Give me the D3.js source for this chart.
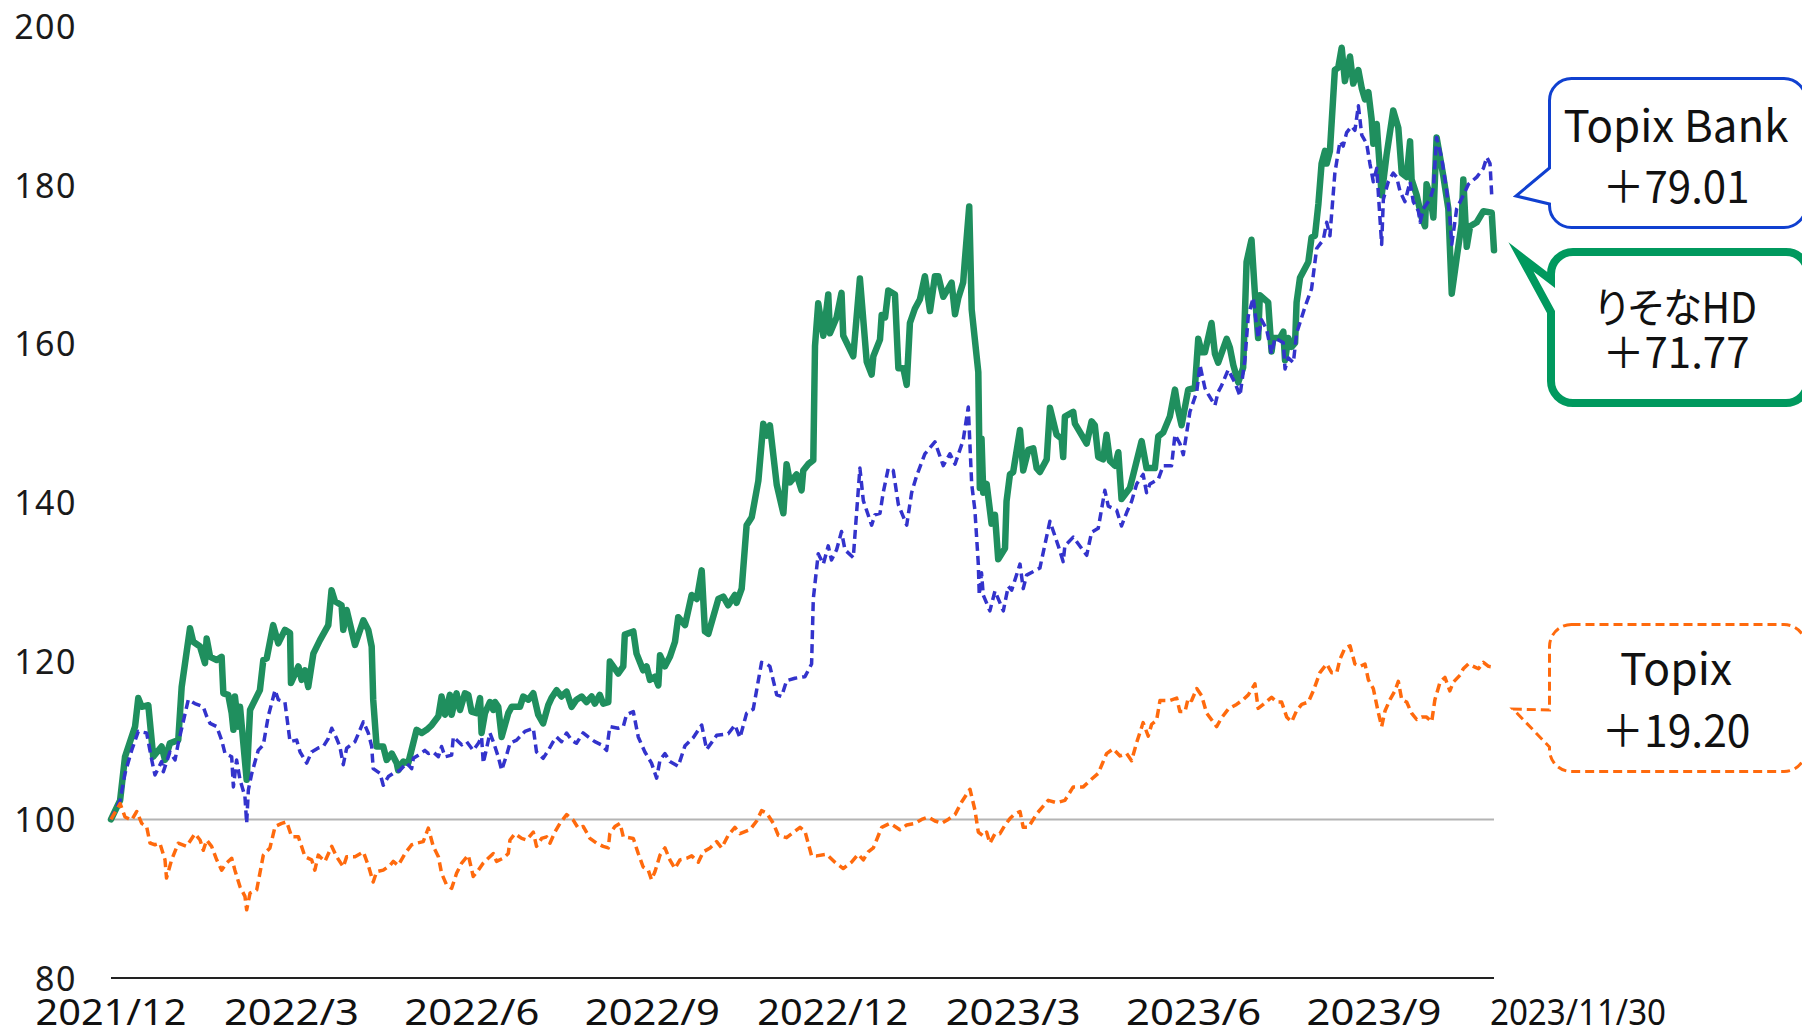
<!DOCTYPE html>
<html>
<head>
<meta charset="utf-8">
<script src="https://cdn.jsdelivr.net/npm/d3@7"></script>
<style>
  html, body { margin: 0; padding: 0; background: #fff; }
  svg { display: block; }
</style>
</head>
<body>
<div id="chart"></div>
<script>
// Index (2021/11/30 = 100). Each point: [days since 2021/11/30, value]
const startDate = new Date(2021, 10, 30);
const endDate = new Date(2023, 10, 30);

const resonaHD = [[0,100],[4.8,102.4],[7.4,107.9],[12.7,111.7],[14.4,115.3],[16.2,114.2],[19.7,114.4],[22.3,107.9],[26.7,109.2],[28.5,107.5],[31.1,109.6],[35.5,110.0],[37.3,116.7],[41.7,124.1],[43.4,122.4],[47.0,121.8],[49.6,119.7],[50.5,122.8],[52.3,120.5],[55.8,120.1],[58.4,120.5],[59.3,115.9],[61.9,115.7],[63.7,113.4],[64.6,111.3],[65.4,115.5],[67.2,111.7],[68.1,114.2],[71.6,105.0],[73.4,113.8],[78.6,116.3],[80.4,120.1],[82.2,120.3],[85.6,124.5],[88.3,122.2],[91.8,123.9],[94.5,123.5],[95.0,117.2],[98.9,119.3],[100.6,117.6],[102.4,118.8],[104.1,116.7],[106.8,120.9],[110.3,122.6],[114.7,124.5],[116.4,128.9],[118.2,127.5],[121.7,127.0],[122.6,123.9],[124.4,126.4],[128.8,122.0],[133.2,125.1],[135.8,123.9],[137.6,121.8],[138.4,115.1],[140.2,109.2],[143.7,109.2],[145.5,107.5],[148.2,108.3],[150.8,107.1],[151.6,106.2],[154.3,107.3],[156.9,107.1],[161.3,111.3],[164.0,110.9],[166.6,111.3],[169.3,111.9],[172.8,113.0],[174.5,115.5],[176.3,113.2],[178.9,115.7],[179.8,113.2],[182.4,115.9],[184.2,113.8],[186.8,115.9],[188.6,115.7],[190.3,113.6],[193.0,113.4],[194.8,115.3],[195.6,110.9],[197.4,113.4],[200.0,114.8],[201.8,113.8],[202.7,114.8],[204.4,114.2],[206.2,110.4],[209.7,113.4],[211.5,114.2],[215.9,114.2],[217.6,115.5],[220.3,115.1],[222.9,115.9],[225.5,113.2],[228.1,112.1],[230.8,114.4],[232.5,115.3],[235.2,116.3],[237.8,115.5],[240.5,116.1],[243.1,114.2],[245.7,115.1],[248.4,115.5],[251.0,114.8],[253.7,115.5],[255.4,114.6],[258.0,115.7],[259.8,114.6],[262.5,114.8],[263.3,119.9],[265.1,119.3],[267.7,118.4],[270.4,119.3],[271.2,123.3],[275.7,123.7],[277.4,120.9],[280.9,118.8],[282.7,119.3],[284.5,117.6],[287.1,118.0],[288.9,116.9],[289.8,120.7],[292.4,119.3],[295.0,120.5],[297.7,122.4],[299.4,125.5],[303.0,124.5],[306.5,128.3],[309.2,127.8],[311.8,131.4],[313.5,123.7],[315.3,123.4],[320.6,127.8],[323.2,128.1],[325.8,127.0],[329.3,128.3],[330.2,127.3],[332.9,129.1],[335.5,137.1],[338.2,138.1],[341.7,142.7],[344.3,149.9],[346.1,148.4],[347.8,149.7],[351.4,142.2],[354.9,138.6],[356.6,144.8],[358.4,142.5],[361.9,143.5],[364.5,141.5],[365.4,144.0],[368.0,144.8],[370.7,145.3],[371.6,159.7],[373.3,165.1],[376.0,161.0],[378.6,166.2],[379.5,161.3],[383.0,163.3],[385.6,166.4],[386.5,161.0],[391.8,158.4],[395.3,168.2],[398.9,157.7],[401.5,156.1],[402.4,158.4],[405.9,160.5],[406.8,163.6],[408.6,163.3],[410.3,166.7],[413.8,166.2],[415.6,156.9],[418.2,156.9],[420.0,154.8],[421.7,162.6],[424.3,164.4],[427.0,165.6],[429.6,168.5],[432.3,164.1],[434.9,168.5],[436.7,168.5],[439.3,165.9],[443.7,167.7],[445.5,163.7],[447.2,165.7],[449.8,167.7],[450.7,170.5],[453.0,177.3],[454.3,164.3],[457.8,156.4],[458.6,141.8],[459.5,148.0],[460.4,141.2],[462.2,142.3],[464.8,137.3],[466.6,138.4],[468.3,132.8],[471.9,134.2],[472.7,140.1],[474.5,143.5],[476.2,143.8],[479.8,149.1],[481.5,144.0],[484.2,146.6],[486.8,146.8],[488.6,144.3],[490.3,143.8],[493.9,145.4],[495.6,151.9],[499.1,148.5],[501.8,148.0],[502.6,145.7],[503.5,150.8],[507.9,151.4],[508.8,149.9],[515.0,147.4],[517.6,150.2],[519.3,149.7],[521.1,145.7],[523.7,145.4],[525.5,148.5],[527.3,145.2],[529.9,144.6],[531.7,146.3],[533.4,140.4],[537.8,141.8],[539.6,143.5],[544.0,147.7],[546.6,144.3],[551.0,144.3],[552.8,148.3],[555.4,148.8],[558.9,150.8],[561.6,154.2],[563.3,151.6],[565.1,149.7],[568.6,154.2],[572.1,154.4],[573.9,160.6],[575.7,158.9],[577.4,158.9],[580.9,162.6],[582.7,158.7],[584.4,157.6],[588.9,160.6],[590.6,159.5],[592.4,157.3],[595.0,155.1],[597.6,157.0],[599.4,170.3],[602.0,173.1],[603.8,166.3],[605.5,160.7],[606.4,166.1],[610.8,165.2],[612.6,159.0],[613.5,160.7],[617.0,160.7],[618.8,161.5],[619.7,157.9],[621.4,160.7],[623.2,159.6],[625.0,160.1],[625.8,165.2],[627.6,168.3],[632.0,170.3],[633.7,173.4],[635.5,173.6],[637.3,177.6],[639.0,182.7],[640.8,184.3],[641.7,182.7],[643.4,184.3],[646.0,194.5],[647.8,194.8],[649.6,197.3],[651.3,193.1],[654.0,196.2],[655.7,192.8],[658.4,194.5],[660.2,192.2],[661.9,190.8],[663.7,191.7],[665.4,188.3],[666.3,185.2],[668.1,187.7],[670.7,178.7],[673.3,183.8],[676.8,189.4],[679.5,187.2],[681.3,181.5],[683.9,181.0],[685.7,185.5],[686.5,180.7],[689.2,178.7],[691.8,175.9],[693.6,174.8],[694.4,180.1],[696.2,178.7],[698.0,175.9],[699.7,186.0],[703.2,181.2],[705.9,177.0],[707.7,166.3],[710.3,170.8],[712.9,175.1],[713.8,180.7],[715.6,172.2],[717.4,174.8],[720.9,175.3],[724.4,176.7],[728.8,176.5],[730,171.77]];

const topixBank = [[0,100],[4.8,102.4],[7.4,105.8],[10.9,108.7],[14.4,111.1],[18.8,110.9],[21.5,107.5],[23.2,105.6],[26.7,107.3],[27.6,106.0],[31.1,108.5],[33.8,107.5],[35.5,109.6],[40.8,115.1],[44.3,114.6],[48.7,114.2],[50.5,113.0],[52.3,112.1],[55.8,111.7],[58.4,110.0],[60.2,108.3],[63.7,107.9],[64.6,104.1],[66.3,107.5],[68.1,105.0],[70.7,102.9],[71.6,99.5],[72.5,103.7],[74.3,105.8],[77.7,108.7],[80.4,109.4],[83.0,113.0],[86.6,116.3],[88.3,115.1],[91.8,114.8],[94.5,109.8],[98.0,110.0],[99.8,108.5],[103.3,107.1],[105.9,108.5],[109.4,109.0],[112.1,109.2],[114.7,110.2],[116.5,111.5],[119.1,110.2],[120.8,109.2],[122.6,106.9],[124.4,109.0],[128.8,109.8],[133.2,112.3],[135.8,110.9],[137.6,109.2],[138.4,106.4],[142.0,105.8],[143.7,104.3],[146.4,105.4],[149.0,105.8],[152.5,106.2],[156.1,107.1],[158.7,106.4],[159.6,107.7],[162.2,108.1],[165.7,108.7],[167.5,108.3],[170.1,108.5],[172.8,107.9],[174.5,109.2],[176.3,107.9],[179.8,108.1],[180.7,110.4],[183.4,109.8],[185.1,109.4],[187.7,109.8],[191.2,108.7],[193.9,109.6],[195.6,110.4],[196.5,107.1],[198.3,109.0],[200.0,110.9],[201.8,109.8],[204.4,107.9],[206.2,106.2],[208.8,108.1],[210.6,109.6],[214.1,110.0],[218.5,111.1],[222.9,111.5],[224.6,108.5],[228.1,107.7],[230.8,108.7],[233.4,109.8],[235.2,110.4],[237.8,109.8],[240.5,110.9],[243.1,110.0],[245.7,109.6],[249.2,110.9],[251.9,110.4],[255.4,109.8],[258.9,109.4],[261.6,108.7],[263.3,111.7],[267.7,111.5],[270.4,111.7],[272.1,113.2],[275.7,113.6],[278.3,110.4],[281.8,108.5],[285.3,107.1],[288.0,105.2],[289.8,107.5],[292.4,108.3],[295.0,107.3],[299.4,106.7],[303.0,109.3],[307.3,110.3],[311.8,111.9],[314.4,108.8],[319.7,110.6],[325.8,110.8],[329.3,111.9],[332.0,110.3],[335.5,113.4],[339.0,113.9],[343.4,119.8],[346.1,119.6],[347.8,119.3],[351.4,115.7],[354.0,115.5],[356.6,117.5],[361.0,117.8],[366.3,118.0],[369.8,119.6],[370.7,127.8],[373.3,133.5],[376.0,132.2],[378.6,134.5],[380.3,132.7],[383.0,134.0],[385.6,136.3],[387.4,134.0],[391.8,133.0],[395.3,144.3],[397.1,140.2],[401.5,137.1],[403.2,138.4],[405.9,138.6],[407.6,141.2],[410.3,144.3],[412.9,144.0],[415.6,139.7],[420.0,137.1],[422.6,141.2],[425.2,143.3],[429.6,146.1],[434.9,147.6],[439.3,144.6],[442.8,146.1],[445.5,144.8],[449.8,147.8],[452.5,152.0],[454.3,142.3],[456.0,139.0],[457.8,132.2],[458.3,128.3],[459.5,131.1],[460.4,128.3],[463.9,126.3],[466.6,128.8],[471.0,126.3],[473.6,129.4],[475.4,128.9],[479.8,132.2],[481.5,129.1],[483.3,130.8],[490.3,131.7],[495.6,137.6],[500.0,134.5],[502.6,132.5],[503.5,134.5],[507.9,135.6],[515.0,133.3],[517.6,136.2],[521.1,136.7],[524.6,141.5],[526.4,139.5],[530.8,139.0],[533.4,137.0],[536.1,138.7],[538.7,140.1],[541.4,142.3],[544.8,143.5],[546.6,141.2],[548.4,142.3],[552.8,142.9],[555.4,144.6],[559.8,144.6],[561.6,148.5],[564.2,147.4],[566.0,146.0],[569.5,151.4],[573.1,153.9],[574.8,157.3],[577.4,154.4],[579.2,153.6],[582.7,152.2],[584.4,153.9],[586.2,154.7],[589.7,156.7],[593.2,155.1],[595.9,153.4],[598.5,157.9],[600.3,163.5],[602.9,165.8],[605.5,160.7],[607.3,163.0],[610.0,161.8],[612.6,158.7],[614.4,160.7],[618.8,160.1],[619.7,156.8],[621.4,158.2],[624.1,157.6],[625.8,161.3],[630.2,164.6],[633.7,166.9],[636.4,172.0],[639.9,173.1],[641.7,175.3],[643.4,173.6],[646.0,181.5],[648.7,185.5],[650.4,184.9],[652.2,186.6],[654.8,187.4],[656.6,186.9],[658.4,190.0],[660.2,186.3],[662.8,185.2],[664.5,182.7],[666.3,180.4],[668.1,182.1],[670.7,172.5],[671.6,178.2],[674.2,180.4],[676.8,181.5],[678.6,181.0],[680.4,179.2],[683.0,177.9],[685.7,180.4],[687.4,177.9],[690.1,176.7],[691.0,175.3],[692.7,177.0],[696.2,178.2],[698.0,179.6],[699.7,186.0],[702.3,183.5],[705.0,179.3],[706.7,175.9],[707.7,172.5],[710.3,177.0],[713.8,178.7],[716.5,180.1],[720.9,181.0],[724.4,182.1],[726.2,183.5],[727.9,182.7],[728.8,178.7],[730,179.01]];

const topix = [[0,100],[4.8,102.0],[7.4,100.3],[10.9,99.9],[13.6,101.0],[16.2,99.5],[18.8,99.1],[20.6,97.0],[23.2,96.8],[25.8,97.0],[28.5,94.9],[29.3,92.6],[32.0,94.9],[35.5,97.0],[39.9,96.6],[44.3,98.2],[47.0,97.4],[48.7,96.1],[50.5,97.4],[53.1,96.6],[55.8,94.9],[58.4,93.6],[61.0,94.5],[63.7,95.1],[65.4,93.6],[68.1,91.5],[70.7,90.3],[71.6,88.6],[73.4,90.7],[76.9,91.1],[80.4,95.5],[83.9,96.4],[86.6,99.1],[90.1,99.5],[92.7,99.7],[95.4,97.8],[98.9,97.8],[102.4,95.3],[105.9,94.9],[107.6,93.6],[109.4,95.5],[112.9,94.7],[116.5,96.6],[119.1,95.3],[122.6,94.0],[124.4,95.3],[128.8,95.3],[133.2,95.9],[135.8,94.2],[138.4,92.1],[140.2,93.4],[143.7,93.6],[147.2,94.2],[149.0,94.7],[151.6,94.2],[155.2,95.7],[158.7,96.8],[161.3,97.0],[164.8,97.2],[167.5,98.9],[170.1,96.6],[172.8,95.3],[174.5,93.2],[177.2,91.7],[179.8,91.3],[182.4,93.2],[185.1,94.5],[188.6,95.5],[191.2,92.8],[193.9,93.6],[196.5,94.5],[199.1,95.1],[201.8,95.7],[203.5,94.7],[207.0,95.1],[209.7,95.7],[210.6,97.4],[213.2,98.2],[216.8,97.6],[219.4,97.4],[222.9,98.4],[224.6,96.6],[227.3,97.6],[229.9,97.8],[231.7,97.0],[234.3,98.4],[237.0,99.5],[240.5,100.6],[244.0,99.9],[246.6,98.9],[249.3,99.1],[252.8,97.6],[256.3,97.0],[259.8,96.6],[262.5,96.4],[263.3,98.2],[266.0,99.1],[268.7,99.5],[270.4,97.8],[275.7,97.6],[278.3,95.7],[280.9,94.0],[283.6,93.6],[285.3,92.4],[287.1,93.4],[289.8,95.5],[292.4,96.4],[295.0,94.9],[297.7,93.8],[300.3,94.9],[303.9,95.1],[306.5,95.4],[310.0,94.6],[312.6,95.9],[316.2,96.4],[319.7,97.2],[322.3,96.4],[325.8,98.0],[329.3,99.0],[332.0,98.2],[337.3,98.7],[340.8,99.8],[343.4,101.1],[346.1,100.8],[349.6,99.5],[352.2,98.0],[356.6,97.7],[361.0,98.5],[363.7,99.0],[366.3,98.5],[369.8,95.4],[372.5,95.4],[377.7,95.6],[382.1,94.6],[386.5,93.8],[390.9,94.6],[394.4,95.6],[397.1,94.9],[399.7,95.9],[402.4,96.4],[406.8,99.0],[411.2,99.5],[416.4,98.7],[420.0,99.3],[424.3,99.5],[427.9,100.0],[431.4,100.3],[434.9,99.8],[438.4,99.5],[441.9,100.0],[445.5,100.6],[449.0,102.2],[453.4,103.8],[456.0,101.2],[457.8,98.4],[460.4,97.9],[462.2,98.4],[463.9,97.0],[466.6,98.2],[469.2,98.2],[471.9,99.3],[474.5,100.1],[477.1,100.7],[479.8,101.0],[481.5,99.0],[484.2,99.0],[488.6,100.7],[494.7,102.4],[499.1,102.1],[503.5,102.4],[507.9,104.1],[513.2,104.1],[516.7,104.9],[521.1,105.8],[525.5,108.3],[529.0,108.9],[532.6,108.0],[536.1,108.3],[538.7,107.4],[541.4,109.7],[544.8,112.2],[547.5,110.5],[549.3,112.0],[551.9,112.5],[553.7,115.0],[558.9,115.0],[562.5,115.3],[564.2,113.6],[566.9,113.6],[568.6,115.3],[570.4,115.0],[573.1,116.5],[575.7,115.6],[578.3,113.4],[583.6,111.7],[586.2,112.8],[589.7,113.9],[594.1,114.5],[597.6,115.1],[600.3,115.7],[603.8,117.1],[605.5,114.0],[608.2,114.5],[612.6,115.4],[615.3,114.8],[617.9,114.8],[620.6,112.9],[623.2,112.3],[625.8,113.7],[628.5,114.5],[632.0,114.8],[634.6,116.2],[638.1,118.5],[641.7,119.6],[644.3,118.5],[647.0,118.5],[648.7,120.2],[651.3,121.6],[654.0,121.9],[656.6,119.6],[659.3,119.3],[661.9,119.6],[663.7,117.6],[666.3,116.5],[669.0,113.4],[670.7,111.7],[672.5,113.7],[675.1,115.1],[677.7,116.2],[679.5,117.4],[681.3,115.1],[683.9,114.8],[686.5,113.4],[689.2,112.6],[691.8,112.9],[694.4,112.9],[697.1,112.3],[698.8,115.1],[701.5,117.3],[704.1,117.9],[706.7,116.2],[708.5,117.3],[712.1,118.2],[713.8,119.0],[716.5,119.6],[719.1,119.3],[721.8,119.0],[724.4,119.8],[727.1,119.3],[730,119.2]];

const yTicks = [80, 100, 120, 140, 160, 180, 200];
const quarterLabels = ['2021/12', '2022/3', '2022/6', '2022/9', '2022/12', '2023/3', '2023/6', '2023/9'];
const endLabel = '2023/11/30';

const calloutNames = ['Topix Bank', 'りそなHD', 'Topix'];
const calloutChanges = ['+79.01', '+71.77', '+19.20'];

const W = 1802, H = 1032;
const plot = {left: 111, right: 1494, top: 26.4, bottom: 978};

const svg = d3.select('#chart').append('svg')
    .attr('width', W)
    .attr('height', H);

const toDate = d => new Date(startDate.getTime() + d * 864e5);

const x = d3.scaleTime()
    .domain([startDate, endDate])
    .range([plot.left, plot.right]);

const y = d3.scaleLinear()
    .domain([80, 200])
    .range([plot.bottom, plot.top]);

// Y axis labels
const yAxis = svg.append('g')
    .attr('transform', `translate(${plot.left},0)`)
    .call(d3.axisLeft(y).tickValues(yTicks).tickSize(0).tickPadding(34));
yAxis.select('.domain').remove();
yAxis.selectAll('text')
    .attr('dy', '0.36em')
    .style('font-family', '"Noto Sans", sans-serif')
    .style('font-size', '34px')
    .style('letter-spacing', '1.5px')
    .style('fill', '#1a1a1a');

// reference line at 100
svg.append('line')
    .attr('x1', plot.left).attr('x2', plot.right)
    .attr('y1', y(100)).attr('y2', y(100))
    .style('stroke', '#b4b4b4')
    .style('stroke-width', 2);

// base axis line at 80
svg.append('line')
    .attr('x1', plot.left).attr('x2', plot.right)
    .attr('y1', y(80)).attr('y2', y(80))
    .style('stroke', '#222')
    .style('stroke-width', 2.2);

// X labels (evenly spaced quarter marks, end date at the right end)
const xq = d3.scalePoint()
    .domain(quarterLabels)
    .range([plot.left, 1374]);

svg.append('g').selectAll('text')
    .data(quarterLabels)
    .enter().append('text')
    .attr('x', d => xq(d))
    .attr('y', 1025)
    .attr('text-anchor', 'middle')
    .attr('textLength', d => d.length === 7 ? 151 : 135)
    .attr('lengthAdjust', 'spacingAndGlyphs')
    .style('font-family', '"Noto Sans", sans-serif')
    .style('font-size', '37px')
    .style('fill', '#111')
    .text(d => d);

svg.append('text')
    .attr('x', x(endDate) - 4)
    .attr('y', 1025)
    .attr('text-anchor', 'start')
    .attr('textLength', 176)
    .attr('lengthAdjust', 'spacingAndGlyphs')
    .style('font-family', '"Noto Sans", sans-serif')
    .style('font-size', '37px')
    .style('fill', '#111')
    .text(endLabel);

// Series
const line = d3.line()
    .x(d => x(toDate(d[0])))
    .y(d => y(d[1]));

svg.append('path')
    .datum(resonaHD)
    .attr('d', line)
    .style('fill', 'none')
    .style('stroke', '#1f8f5e')
    .style('stroke-width', 6.5)
    .style('stroke-linejoin', 'round')
    .style('stroke-linecap', 'round');

svg.append('path')
    .datum(topixBank)
    .attr('d', line)
    .style('fill', 'none')
    .style('stroke', '#3333cc')
    .style('stroke-width', 3.5)
    .style('stroke-dasharray', '9,5')
    .style('stroke-linejoin', 'round');

svg.append('path')
    .datum(topix)
    .attr('d', line)
    .style('fill', 'none')
    .style('stroke', '#ff6a0d')
    .style('stroke-width', 3.5)
    .style('stroke-dasharray', '9,5')
    .style('stroke-linejoin', 'round');

// Callouts
const boxes = [
    {x0: 1549.5, y0: 78.5, x1: 1806, y1: 227.5, r: 22, tip: [1516, 196], base: [168, 204],
     stroke: '#1040d0', width: 3, dash: null, textY: [142, 203], textW: [225, 147], size: 44},
    {x0: 1551, y0: 252, x1: 1808, y1: 403, r: 22, tip: [1521, 257], base: [280, 312],
     stroke: '#00995e', width: 8, dash: null, textY: [323, 368], textW: [162, 147], size: 42},
    {x0: 1549.5, y0: 624.5, x1: 1806, y1: 771.5, r: 22, tip: [1513, 709], base: [710, 747],
     stroke: '#ff6a0d', width: 3, dash: '9,5', textY: [685, 747], textW: [112, 149], size: 44}
];

function calloutPath(b) {
    const {x0, y0, x1, y1, r} = b;
    return `M${x0 + r},${y0} H${x1 - r} A${r},${r} 0 0 1 ${x1},${y0 + r} V${y1 - r}` +
        ` A${r},${r} 0 0 1 ${x1 - r},${y1} H${x0 + r} A${r},${r} 0 0 1 ${x0},${y1 - r}` +
        ` V${b.base[1]} L${b.tip[0]},${b.tip[1]} L${x0},${b.base[0]} V${y0 + r}` +
        ` A${r},${r} 0 0 1 ${x0 + r},${y0} Z`;
}

const cx = 1676;
boxes.forEach((b, i) => {
    svg.append('path')
        .attr('d', calloutPath(b))
        .style('fill', '#fff')
        .style('stroke', b.stroke)
        .style('stroke-width', b.width)
        .style('stroke-linejoin', 'miter')
        .style('stroke-miterlimit', 10)
        .style('stroke-dasharray', b.dash);

    [calloutNames[i], calloutChanges[i]].forEach((t, j) => {
        svg.append('text')
            .attr('x', cx)
            .attr('y', b.textY[j])
            .attr('text-anchor', 'middle')
            .attr('textLength', b.textW[j])
            .attr('lengthAdjust', 'spacingAndGlyphs')
            .style('font-family', '"Noto Sans CJK JP", sans-serif')
            .style('font-feature-settings', '"palt" 1')
            .style('font-size', b.size + 'px')
            .style('fill', '#111')
            .text(j === 1 ? t.replace('+', '＋') : t);
    });
});
</script>
</body>
</html>
